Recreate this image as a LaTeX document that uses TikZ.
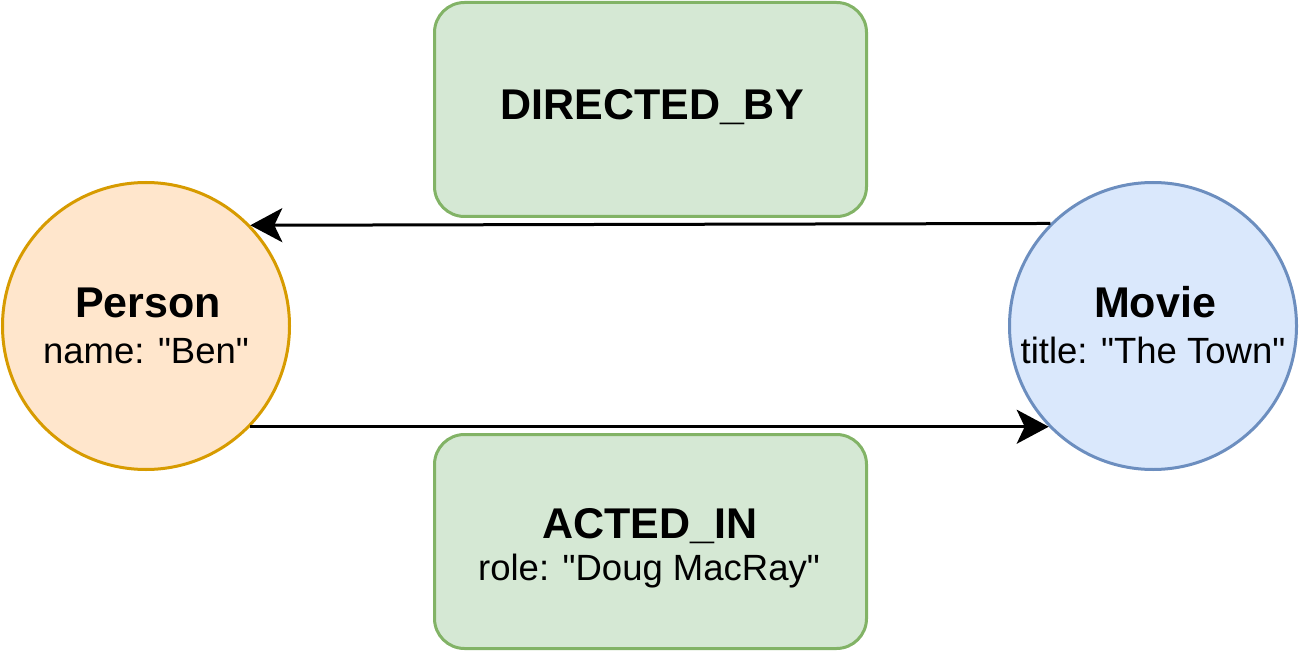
\documentclass[tikz,border=0pt]{standalone}
\usepackage{fontspec}
\setmainfont{Liberation Sans}
\newfontfamily\libsans{Liberation Sans}
\usetikzlibrary{arrows.meta}
\definecolor{persfill}{HTML}{FFE6CC}
\definecolor{persdraw}{HTML}{D79B00}
\definecolor{movfill}{HTML}{DAE8FC}
\definecolor{movdraw}{HTML}{6C8EBF}
\definecolor{relfill}{HTML}{D5E8D4}
\definecolor{reldraw}{HTML}{82B366}
\tikzset{
  entity/.style={circle, line width=3pt, minimum size=287pt, inner sep=0pt},
  relbox/.style={rectangle, rounded corners=30pt, line width=3pt, fill=relfill, draw=reldraw, minimum width=432pt, minimum height=214pt, inner sep=0pt},
  bigtxt/.style={anchor=base, inner sep=0pt, font=\libsans\fontsize{43}{50}\selectfont\bfseries},
  smalltxt/.style={anchor=base, inner sep=0pt, font=\libsans\fontsize{36.5}{44}\selectfont},
  rel/.style={line width=3pt, -{Stealth[length=32pt,width=34pt,inset=8pt]}}
}
\begin{document}
\begin{tikzpicture}[x=1pt,y=-1pt]
\useasboundingbox (0,0) rectangle (1300,652);
\node[entity, fill=persfill, draw=persdraw] (person) at (146,326) {};
\node[entity, fill=movfill, draw=movdraw] (movie) at (1153,326) {};
\node[relbox] (directed) at (650.5,109.5) {};
\node[relbox] (acted) at (650.5,541.5) {};
\node[bigtxt] (personT) at (148,317) {Person};
\node[smalltxt] (personP) at (146,363) {name: "Ben"};
\node[bigtxt] (movieT) at (1155,317) {Movie};
\node[smalltxt] (movieP) at (1153,363) {title: "The Town"};
\node[bigtxt] (directedT) at (652,120) {DIRECTED\_BY};
\node[bigtxt] (actedT) at (650,538) {ACTED\_IN};
\node[smalltxt] (actedP) at (649,580) {role: "Doug MacRay"};
\draw[rel] (movie.135.7) -- (person.44.3);
\draw[rel] (person.-44.3) -- (movie.224.3);
\end{tikzpicture}
\end{document}
